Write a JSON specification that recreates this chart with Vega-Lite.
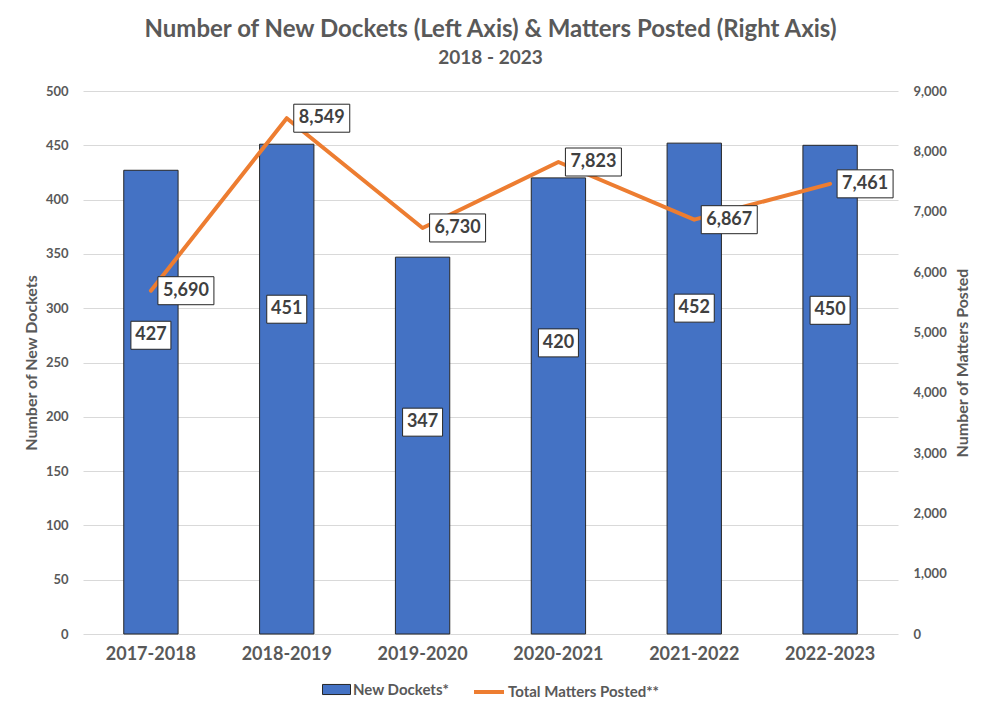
{
  "$schema": "https://vega.github.io/schema/vega-lite/v6.json",
  "autosize": {"type": "none"},
  "width": 815,
  "height": 543,
  "padding": {"left": 83, "top": 91, "right": 95, "bottom": 85},
  "background": "white",
  "title": {
    "text": "Number of New Dockets (Left Axis) & Matters Posted (Right Axis)",
    "subtitle": "2018 - 2023",
    "font": "Lato",
    "fontSize": 24,
    "fontWeight": "bold",
    "color": "#595959",
    "subtitleFont": "Lato",
    "subtitleFontSize": 19,
    "subtitleFontWeight": "bold",
    "subtitleColor": "#595959",
    "subtitlePadding": 7,
    "anchor": "middle",
    "offset": 17
  },
  "data": {
    "values": [
      {"year": "2017-2018", "dockets": 427, "matters": 5690},
      {"year": "2018-2019", "dockets": 451, "matters": 8549},
      {"year": "2019-2020", "dockets": 347, "matters": 6730},
      {"year": "2020-2021", "dockets": 420, "matters": 7823},
      {"year": "2021-2022", "dockets": 452, "matters": 6867},
      {"year": "2022-2023", "dockets": 450, "matters": 7461}
    ]
  },
  "encoding": {
    "x": {
      "field": "year",
      "type": "nominal",
      "sort": null,
      "scale": {"paddingInner": 0.6, "paddingOuter": 0.3},
      "axis": {
        "title": null,
        "labelAngle": 0,
        "labelFont": "Lato",
        "labelFontSize": 18,
        "labelFontWeight": "bold",
        "labelColor": "#595959",
        "labelPadding": 11,
        "ticks": false,
        "domain": false
      }
    }
  },
  "layer": [
    {
      "encoding": {
        "y": {
          "field": "dockets",
          "type": "quantitative",
          "scale": {"domain": [0, 500]},
          "axis": {
            "orient": "left",
            "values": [0, 50, 100, 150, 200, 250, 300, 350, 400, 450, 500],
            "title": "Number of New Dockets",
            "titleFont": "Lato",
            "titleFontSize": 16,
            "titleFontWeight": "bold",
            "titleColor": "#595959",
            "titlePadding": 6,
            "labelFont": "Lato",
            "labelFontSize": 13,
            "labelFontWeight": "bold",
            "labelColor": "#595959",
            "labelPadding": 15,
            "ticks": false,
            "domain": false,
            "grid": true,
            "gridColor": "#D9D9D9",
            "gridWidth": 1
          }
        }
      },
      "layer": [
        {
          "mark": {"type": "bar", "stroke": "#262626", "strokeWidth": 1},
          "encoding": {
            "fill": {
              "datum": "New Dockets*",
              "type": "nominal",
              "scale": {"range": ["#4472C4"]},
              "legend": {
                "title": null,
                "symbolType": "M-1,-0.36H1V0.36H-1Z",
                "symbolSize": 784,
                "symbolStrokeColor": "#262626",
                "symbolStrokeWidth": 1
              }
            }
          }
        },
        {
          "mark": {
            "type": "point",
            "shape": "M-1,-0.7H1V0.7H-1Z",
            "size": 1600,
            "filled": true,
            "fill": "white",
            "stroke": "#262626",
            "strokeWidth": 1,
            "opacity": 1,
            "yOffset": 165
          }
        },
        {
          "mark": {
            "type": "text",
            "font": "Lato",
            "fontSize": 18,
            "fontWeight": "bold",
            "color": "#404040",
            "baseline": "middle",
            "dy": 165
          },
          "encoding": {"text": {"field": "dockets", "type": "quantitative"}}
        }
      ]
    },
    {
      "encoding": {
        "y": {
          "field": "matters",
          "type": "quantitative",
          "scale": {"domain": [0, 9000]},
          "axis": {
            "orient": "right",
            "values": [0, 1000, 2000, 3000, 4000, 5000, 6000, 7000, 8000, 9000],
            "labelExpr": "format(datum.value, ',')",
            "title": "Number of Matters Posted",
            "titleAngle": 270,
            "titleBaseline": "top",
            "titleFont": "Lato",
            "titleFontSize": 16,
            "titleFontWeight": "bold",
            "titleColor": "#595959",
            "titlePadding": 8,
            "labelFont": "Lato",
            "labelFontSize": 13,
            "labelFontWeight": "bold",
            "labelColor": "#595959",
            "labelPadding": 15,
            "ticks": false,
            "domain": false,
            "grid": false
          }
        }
      },
      "layer": [
        {
          "mark": {"type": "line", "strokeWidth": 4, "strokeCap": "round", "strokeJoin": "round"},
          "encoding": {
            "stroke": {
              "datum": "Total Matters Posted**",
              "type": "nominal",
              "scale": {"range": ["#ED7D31"]},
              "legend": {
                "title": null,
                "symbolType": "stroke",
                "symbolStrokeWidth": 4,
                "symbolSize": 900
              }
            }
          }
        },
        {
          "mark": {
            "type": "point",
            "shape": "M-1,-0.5H1V0.5H-1Z",
            "size": 3136,
            "filled": true,
            "fill": "white",
            "stroke": "#262626",
            "strokeWidth": 1,
            "opacity": 1,
            "xOffset": 35
          }
        },
        {
          "mark": {
            "type": "text",
            "font": "Lato",
            "fontSize": 18,
            "fontWeight": "bold",
            "color": "#404040",
            "baseline": "middle",
            "dx": 35
          },
          "encoding": {"text": {"field": "matters", "type": "quantitative", "format": ","}}
        }
      ]
    }
  ],
  "resolve": {"scale": {"y": "independent"}},
  "config": {
    "view": {"stroke": null},
    "legend": {
      "orient": "bottom",
      "direction": "horizontal",
      "offset": 12,
      "labelFont": "Lato",
      "labelFontSize": 15,
      "labelFontWeight": "bold",
      "labelColor": "#595959",
      "labelOffset": 2,
      "layout": {"bottom": {"anchor": "middle", "direction": "horizontal", "margin": 22}}
    }
  }
}
